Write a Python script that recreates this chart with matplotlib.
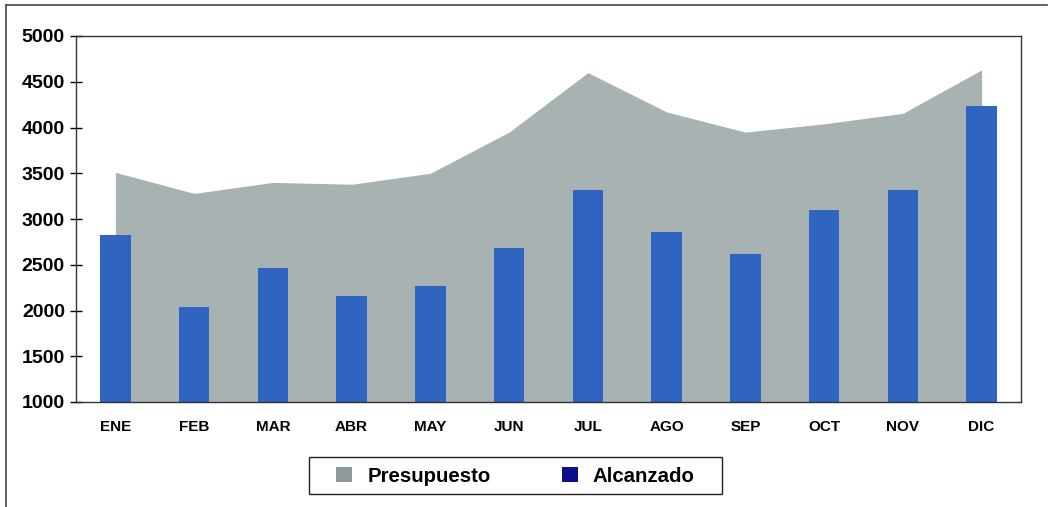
import matplotlib
matplotlib.use("Agg")
import matplotlib.pyplot as plt
from matplotlib.patches import Patch, Rectangle
from matplotlib.lines import Line2D

months = ["ENE", "FEB", "MAR", "ABR", "MAY", "JUN", "JUL", "AGO", "SEP", "OCT", "NOV", "DIC"]
presupuesto = [3510, 3280, 3400, 3380, 3500, 3950, 4600, 4170, 3950, 4040, 4155, 4630]
alcanzado = [2820, 2040, 2460, 2160, 2270, 2680, 3320, 2860, 2620, 3100, 3320, 4230]
yticks = [1000, 1500, 2000, 2500, 3000, 3500, 4000, 4500, 5000]

plt.rcParams['font.family'] = ['Liberation Sans', 'DejaVu Sans']

W, H = 1051, 507
fig = plt.figure(figsize=(W / 100, H / 100), dpi=100)
ax = fig.add_axes([76 / W, 1 - 402 / H, (1021 - 76) / W, (402 - 36) / H])

x = list(range(len(months)))
ax.fill_between(x, 1000, presupuesto, color="#a9b2b3", linewidth=0, zorder=1)
ax.bar(x, [a - 1000 for a in alcanzado], bottom=1000, width=0.39, color="#2f64c0", zorder=2)

ax.set_xlim(-0.5, 11.5)
ax.set_ylim(1000, 5000)
ax.set_yticks(yticks)
ax.set_yticklabels([str(t) for t in yticks], fontsize=14, fontweight="bold")
ax.set_xticks(x)
ax.set_xticklabels(months, fontsize=11, fontweight="bold")
ax.tick_params(axis="x", length=0, pad=13)
ax.tick_params(axis="y", direction="inout", length=8, width=1, pad=4)
for s in ax.spines.values():
    s.set_color("#333333")
    s.set_linewidth(1.0)

# legend frame
fig.add_artist(Rectangle((309 / W, 1 - 494 / H), (722 - 309) / W, 37 / H,
                         transform=fig.transFigure, facecolor="white", edgecolor="#222222", lw=1.0))
handles = [Patch(facecolor="#8f9a9a", edgecolor="none"), Patch(facecolor="#0c0f8c", edgecolor="none")]
leg = fig.legend(handles, ["Presupuesto", "Alcanzado"], loc="center",
                 bbox_to_anchor=((309 + 722) / 2 / W, 1 - 476 / H), ncol=2,
                 prop={"weight": "bold", "size": 14.7}, frameon=False,
                 handlelength=0.78, handleheight=0.78, columnspacing=3.5, handletextpad=0.74,
                 borderpad=0.2)

# outer frame lines
fig.add_artist(Line2D([6 / W, 6 / W], [0, 1 - 5 / H], transform=fig.transFigure, color="#444444", lw=1.2))
fig.add_artist(Line2D([6 / W, 1047 / W], [1 - 5 / H, 1 - 5 / H], transform=fig.transFigure, color="#444444", lw=1.2))

fig.savefig("out.png", dpi=100)
